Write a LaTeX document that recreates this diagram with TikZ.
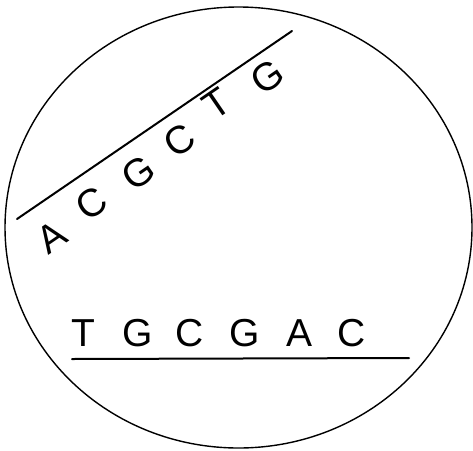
\documentclass[tikz,border=0pt]{standalone}
\usepackage{fontspec}
\setmainfont{Liberation Sans}
\begin{document}
\begin{tikzpicture}[x=1pt,y=-1pt,
  base/.style={font=\fontsize{39}{39}\selectfont, inner sep=0pt, anchor=center},
  topbase/.style={base, rotate=34.4},
  strand/.style={line width=2pt, line cap=round}]
\useasboundingbox (0,0) rectangle (473,450);
\draw[line width=1.4pt] (238.5,227.5) ellipse [x radius=233.5, y radius=220.5];
% top strand
\coordinate (t1) at (17,219);
\coordinate (t2) at (292,31);
\draw[strand] (t1) -- (t2);
\node[topbase] (a1) at (52,237) {A};
\node[topbase] (a2) at (92,203) {C};
\node[topbase] (a3) at (138,173) {G};
\node[topbase] (a4) at (180,140) {C};
\node[topbase] (a5) at (217,104) {T};
\node[topbase] (a6) at (267,77) {G};
% bottom strand
\node[base] (b1) at (83,333) {T};
\node[base] (b2) at (138,333) {G};
\node[base] (b3) at (190,333) {C};
\node[base] (b4) at (245,333) {G};
\node[base] (b5) at (300,333) {A};
\node[base] (b6) at (352,333) {C};
\coordinate (l1) at (72,359);
\coordinate (l2) at (409,358);
\draw[strand] (l1) -- (l2);
\end{tikzpicture}
\end{document}
